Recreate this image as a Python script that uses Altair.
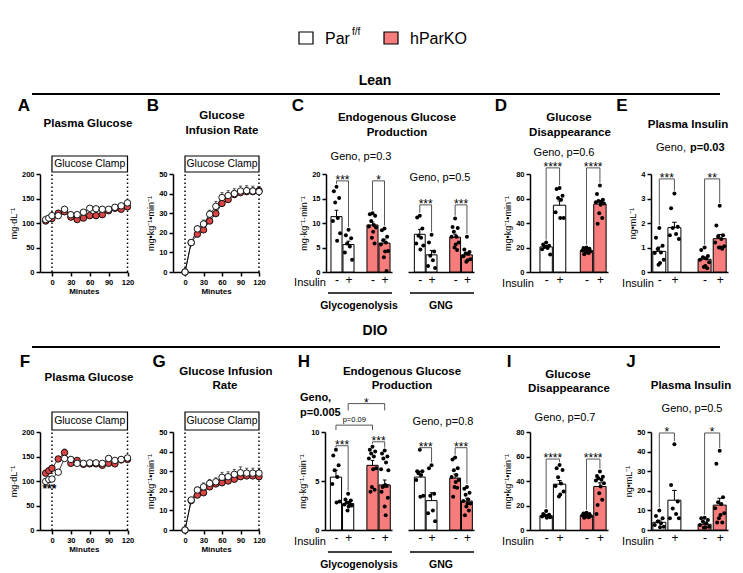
import altair as alt
import pandas as pd

W, H = 743, 573
FONT = "Liberation Sans"
PINK = "#F77C7C"
RED = "#D94545"

# ---------------- data ----------------
tc_times = [-10, -5, 0, 10, 20, 30, 40, 50, 60, 70, 80, 90, 100, 110, 120]
gir_times = [0, 10, 20, 30, 40, 50, 60, 70, 80, 90, 100, 110, 120]

# Lean plasma glucose (mg/dL)
lean_glc_wt = [107, 110, 115, 115, 128, 117, 117, 122, 130, 129, 128, 128, 132, 135, 141]
lean_glc_wt_sem = [3, 3, 3, 3, 4, 3, 3, 3, 3, 3, 3, 3, 3, 3, 4]
lean_glc_ko = [104, 109, 109, 120, 123, 112, 107, 110, 115, 115, 117, 125, 130, 128, 133]
lean_glc_ko_sem = [3, 3, 3, 3, 4, 3, 3, 3, 3, 3, 3, 3, 3, 3, 3]
# Lean glucose infusion rate
lean_gir_wt = [0, 15, 22, 24.5, 29.5, 33.5, 38, 39, 40, 41.3, 41.5, 41.3, 41]
lean_gir_wt_sem = [0, 1, 1.5, 2, 2, 2.5, 2.5, 2.5, 2.5, 2.5, 2.5, 2.5, 2.5]
lean_gir_ko = [0, 15, 19.3, 21.5, 26, 29.8, 35, 37, 39.5, 40.5, 41, 41, 41.5]
lean_gir_ko_sem = [0, 1, 1.2, 1.5, 2, 2, 2, 2, 2, 2, 2, 2, 2]
# DIO plasma glucose
dio_glc_wt = [99, 103, 104, 118, 146, 144, 136, 136, 137, 137, 136, 146, 142, 144, 147]
dio_glc_wt_sem = [4, 4, 4, 5, 6, 5, 4, 3, 3, 3, 3, 3, 3, 3, 4]
dio_glc_ko = [116, 121, 126, 145, 158, 136, 142, 134, 135, 135, 132, 136, 135, 143, 144]
dio_glc_ko_sem = [4, 4, 5, 5, 7, 4, 4, 3, 3, 3, 3, 3, 3, 3, 3]
# DIO glucose infusion rate
dio_gir_wt = [0, 15.3, 20.4, 22, 23.8, 24.6, 26.9, 27.2, 28.4, 29.2, 29, 29, 29]
dio_gir_wt_sem = [0, 1, 1.5, 2, 2, 2, 2.5, 2.5, 2.5, 3, 2.5, 2.5, 2.5]
dio_gir_ko = [0, 15, 17.8, 19, 22, 23.5, 24.1, 25, 25.9, 27.2, 27.6, 27.6, 27.2]
dio_gir_ko_sem = [0, 1, 1.5, 1.5, 2, 2, 2, 2, 2, 2, 2, 2, 2]

# bar groups: order = Par f/f -, Par f/f +, hParKO -, hParKO +
lean_glyco_pts = [
    [17.4, 16.5, 15.1, 14.2, 11.0, 10.4, 7.9, 6.4],
    [8.6, 7.5, 6.9, 5.8, 5.2, 4.0, 2.5],
    [12.0, 11.8, 11.5, 10.4, 9.6, 9.3, 9.1, 8.2, 7.0, 5.8],
    [8.9, 8.5, 7.2, 6.5, 6.0, 5.6, 4.3, 4.2, 3.0, 0.2],
]
lean_glyco_mean = [11.3, 5.6, 9.6, 5.9]
lean_glyco_sem = [1.3, 0.7, 0.6, 0.8]

lean_gng_pts = [
    [11.5, 11.1, 8.9, 7.4, 7.0, 5.8, 5.4, 4.6],
    [7.6, 6.0, 4.2, 3.3, 2.4, 1.2, 0.8],
    [10.9, 9.2, 9.0, 8.2, 7.2, 7.2, 6.0, 5.6, 5.0, 4.5],
    [7.2, 4.6, 4.1, 3.8, 3.7, 3.2, 2.6, 2.4, 2.1],
]
lean_gng_mean = [7.7, 3.5, 7.1, 3.5]
lean_gng_sem = [1.0, 0.9, 0.6, 0.5]

lean_rd_pts = [
    [24.0, 22.5, 21.5, 20.5, 19.5, 18.5, 14.2],
    [68.5, 67.7, 62.3, 60.4, 59.0, 48.7, 44.0, 44.0],
    [20.0, 19.5, 19.0, 18.5, 18.0, 17.5, 17.0, 16.5, 16.0, 15.5, 14.5],
    [70.7, 63.6, 59.0, 58.0, 57.5, 57.0, 56.0, 55.0, 48.0, 44.0, 39.4],
]
lean_rd_mean = [20.5, 54.5, 17.5, 55.5]
lean_rd_sem = [1.1, 3.5, 0.6, 2.5]

lean_ins_pts = [
    [1.8, 1.4, 1.07, 0.94, 0.8, 0.78, 0.5, 0.37, 0.3],
    [3.2, 2.6, 1.85, 1.8, 1.55, 1.5, 1.35],
    [1.0, 0.9, 0.65, 0.6, 0.55, 0.5, 0.4, 0.25, 0.2, 0.15],
    [2.7, 1.9, 1.5, 1.45, 1.35, 1.2, 1.05, 1.0, 1.0, 0.95],
]
lean_ins_mean = [0.84, 1.81, 0.52, 1.36]
lean_ins_sem = [0.18, 0.22, 0.09, 0.17]

dio_glyco_pts = [
    [8.2, 7.6, 6.6, 6.1, 5.4, 4.7, 2.9, 2.8],
    [3.7, 3.1, 3.0, 2.8, 2.7, 2.6, 2.5, 2.4, 2.0],
    [8.5, 8.2, 8.0, 7.8, 7.5, 7.3, 6.3, 6.2, 4.4, 4.1, 3.9],
    [8.1, 7.8, 7.5, 7.3, 6.9, 6.2, 6.1, 4.6, 4.5, 4.5, 4.4, 3.9, 3.3, 2.4, 1.5],
]
dio_glyco_mean = [5.4, 2.7, 6.6, 4.6]
dio_glyco_sem = [0.7, 0.2, 0.5, 0.5]

dio_gng_pts = [
    [8.2, 6.0, 6.0, 5.8, 5.6, 5.1, 3.5, 3.4],
    [6.6, 6.3, 3.7, 3.5, 2.0, 1.7, 0.9],
    [7.4, 7.2, 6.3, 6.1, 5.6, 5.4, 5.1, 4.9, 4.4, 4.3, 3.4],
    [4.4, 4.2, 3.8, 3.6, 3.1, 2.95, 2.7, 2.7, 2.4, 2.0, 1.5],
]
dio_gng_mean = [5.4, 3.0, 5.3, 2.95]
dio_gng_sem = [0.6, 0.8, 0.4, 0.3]

dio_rd_pts = [
    [15.5, 13.0, 12.5, 12.0, 11.5, 11.0, 10.5, 10.0],
    [53.0, 50.5, 49.0, 43.0, 38.0, 36.0, 31.5, 29.0, 27.3],
    [14.0, 13.5, 13.0, 12.5, 12.0, 12.0, 11.5, 11.0, 11.0, 10.5, 10.0],
    [47.8, 44.0, 43.5, 42.3, 41.0, 40.5, 38.2, 35.5, 30.0, 24.6, 20.5, 13.1],
]
dio_rd_mean = [11.7, 37.4, 11.9, 35.5]
dio_rd_sem = [0.5, 3.0, 0.4, 3.0]

dio_ins_pts = [
    [10.0, 7.2, 6.0, 4.3, 3.4, 2.6, 1.7, 1.4],
    [43.8, 23.0, 14.5, 11.0, 8.2, 6.0, 6.0],
    [6.3, 6.0, 5.1, 4.3, 3.4, 2.6, 1.7, 1.4, 1.2],
    [40.4, 33.8, 16.7, 14.2, 13.3, 11.1, 8.5, 7.7, 6.0, 3.8, 3.8],
]
dio_ins_mean = [3.9, 15.2, 2.9, 12.7]
dio_ins_sem = [1.1, 5.0, 0.6, 3.5]

# ---------------- layout ----------------
ROW1_Y = [272, 174]
ROW2_Y = [530, 432]

G = {
    "A": dict(xdom=[-19, 120], xr=[40, 127.5], ydom=[0, 200], yr=ROW1_Y),
    "B": dict(xdom=[-19.5, 120], xr=[173, 259], ydom=[0, 50], yr=ROW1_Y),
    "C1": dict(xdom=[-0.875, 4.625], xr=[326, 392], ydom=[0, 20], yr=ROW1_Y),
    "C2": dict(xdom=[-1.0, 4.6], xr=[408, 474], ydom=[0, 20], yr=ROW1_Y),
    "D": dict(xdom=[-1.2, 4.6], xr=[530, 608], ydom=[0, 80], yr=ROW1_Y),
    "E": dict(xdom=[-0.55, 4.55], xr=[651, 728], ydom=[0, 4], yr=ROW1_Y),
    "F": dict(xdom=[-19, 120], xr=[40, 127.5], ydom=[0, 200], yr=ROW2_Y),
    "G": dict(xdom=[-19.5, 120], xr=[173, 259], ydom=[0, 50], yr=ROW2_Y),
    "H1": dict(xdom=[-0.9, 4.6], xr=[325, 392], ydom=[0, 10], yr=ROW2_Y),
    "H2": dict(xdom=[-1.0, 4.6], xr=[408, 474], ydom=[0, 10], yr=ROW2_Y),
    "I": dict(xdom=[-1.2, 4.6], xr=[530, 608], ydom=[0, 80], yr=ROW2_Y),
    "J": dict(xdom=[-0.55, 4.55], xr=[651, 728], ydom=[0, 50], yr=ROW2_Y),
}

AX = dict(domainColor="black", domainWidth=1.5, tickColor="black", tickWidth=1.5,
          tickSize=4, labelFont=FONT, labelFontSize=7.5, labelFontWeight="bold",
          labelColor="black", titleFont=FONT, titleColor="black", grid=False)


def scales(g):
    xs = alt.Scale(domain=g["xdom"], range=g["xr"], nice=False, zero=False)
    ys = alt.Scale(domain=g["ydom"], range=g["yr"], nice=False, zero=False)
    return xs, ys


def inv_y(g, py):
    d0, d1 = g["ydom"]
    r0, r1 = g["yr"]
    return d0 + (r0 - py) / (r0 - r1) * (d1 - d0)


def yaxis(g, values, title):
    return alt.Axis(orient="left", offset=-g["xr"][0], values=values, title=title,
                    titleFontSize=9, titleFontWeight="normal", titlePadding=3, **AX)


def time_panel(times, wt, wt_sem, ko, ko_sem, g, yvals, ytitle, box_px, note=None):
    xs, ys = scales(g)

    def X(f, axis=None):
        return alt.X(f, type="quantitative", scale=xs, axis=axis)

    def Y(f, axis=None):
        return alt.Y(f, type="quantitative", scale=ys, axis=axis)

    rows = []
    for geno, vals, sems in (("KO", ko, ko_sem), ("WT", wt, wt_sem)):
        for t, v, s in zip(times, vals, sems):
            rows.append(dict(geno=geno, t=t, v=v, top=v + s, cl=t - 2.5, cr=t + 2.5))
    df = pd.DataFrame(rows)
    ylo = inv_y(g, box_px[1])
    yhi = inv_y(g, box_px[0])
    box = pd.DataFrame({"t0": [0], "t1": [120], "y0": [ylo], "y1": [yhi], "tm": [60],
                        "ym": [(ylo + yhi) / 2], "label": ["Glucose Clamp"]})
    vl = pd.DataFrame({"t": [0, 120], "y0": [g["ydom"][0]] * 2, "y1": [ylo] * 2})
    xaxis = alt.Axis(orient="bottom", offset=g["yr"][0] - H, values=[0, 30, 60, 90, 120],
                     title="Minutes", titleFontSize=8, titleFontWeight="bold", titlePadding=2,
                     labelFlush=False, **AX)
    layers = [
        alt.Chart(vl).mark_rule(color="black", strokeWidth=1.5, strokeDash=[1.5, 2.5]).encode(
            x=X("t"), y=Y("y0"), y2="y1"),
        alt.Chart(box).mark_rect(fill="white", stroke="black", strokeWidth=1.2).encode(
            x=X("t0"), x2="t1", y=Y("y0"), y2="y1"),
        alt.Chart(box).mark_text(font=FONT, fontSize=10.4, color="black", fill="black").encode(
            x=X("tm"), y=Y("ym"), text="label:N"),
        alt.Chart(df).mark_line(color="black", strokeWidth=0.8).encode(
            x=X("t", xaxis), y=Y("v", yaxis(g, yvals, ytitle)), detail="geno:N"),
        alt.Chart(df).mark_rule(color="#333", strokeWidth=0.8).encode(x=X("t"), y=Y("v"), y2="top"),
        alt.Chart(df).mark_rule(color="#333", strokeWidth=0.8).encode(x=X("cl"), x2="cr", y=Y("top")),
        alt.Chart(df[df.geno == "KO"]).mark_circle(size=42, fill=RED, stroke="black",
                                                    strokeWidth=0.9, opacity=1).encode(x=X("t"), y=Y("v")),
        alt.Chart(df[df.geno == "WT"]).mark_circle(size=42, fill="white", stroke="black",
                                                    strokeWidth=0.9, opacity=1).encode(x=X("t"), y=Y("v")),
    ]
    if note is not None:
        ndf = pd.DataFrame([note], columns=["t", "y", "text"])
        layers.append(alt.Chart(ndf).mark_text(font=FONT, fontSize=12, fontWeight="bold",
                                               color="black", fill="black").encode(
            x=X("t"), y=Y("y"), text="text:N"))
    return layers


JIT = [0, -0.22, 0.22, -0.11, 0.11, -0.3, 0.3, 0.05, -0.05, 0.17, -0.17, -0.26, 0.26, 0.0, 0.08]
POS = [0, 1, 3, 4]


def bar_panel(pts, means, sems, g, brackets, yvals=None, ytitle=None, half=0.45):
    xs, ys = scales(g)

    def X(f, axis=None):
        return alt.X(f, type="quantitative", scale=xs, axis=axis)

    def Y(f, axis=None):
        return alt.Y(f, type="quantitative", scale=ys, axis=axis)

    span = g["ydom"][1] - g["ydom"][0]
    bars = pd.DataFrame({"c": POS, "geno": ["WT", "WT", "KO", "KO"], "mean": means,
                         "top": [m + s for m, s in zip(means, sems)], "base": [0] * 4})
    bars["lo"] = bars.c - half
    bars["hi"] = bars.c + half
    bars["cl"] = bars.c - 0.15
    bars["cr"] = bars.c + 0.15
    drows = []
    for c, vals in zip(POS, pts):
        for i, v in enumerate(vals):
            drows.append(dict(x=c + JIT[i % len(JIT)], v=v))
    dots = pd.DataFrame(drows)

    hrows, lrows, trows = [], [], []
    for b in brackets:
        c1, c2, y, label = b[:4]
        hrows.append(dict(a=c1, b=c2, y=y))
        for c in (c1, c2):
            if len(b) > 4:
                bottom = y - b[4]
            else:
                bottom = min(max(pts[POS.index(c)]) + 0.03 * span, y - 0.02 * span)
            lrows.append(dict(c=c, y=y, y2=bottom))
        trows.append(dict(x=(c1 + c2) / 2, y=y, text=label, small=len(b) > 5))
    hdf, ldf, tdf = pd.DataFrame(hrows), pd.DataFrame(lrows), pd.DataFrame(trows)

    xaxis = alt.Axis(orient="bottom", offset=g["yr"][0] - H, values=[0, 1, 3, 4],
                     labelExpr="(datum.value == 0 || datum.value == 3) ? '-' : '+'",
                     ticks=False, title=None, domainColor="black", domainWidth=1.5,
                     labelFont=FONT, labelFontSize=12, labelColor="black", labelPadding=2,
                     labelFlush=False, labelOverlap=False, grid=False)
    ya = yaxis(g, yvals, ytitle) if yvals is not None else None
    fill = alt.condition(alt.datum.geno == "WT", alt.value("white"), alt.value(PINK))
    layers = [
        alt.Chart(bars).mark_rect(stroke="black", strokeWidth=1).encode(
            x=X("lo", xaxis), x2="hi", y=Y("mean", ya), y2="base", fill=fill),
        alt.Chart(bars).mark_rule(color="black", strokeWidth=1).encode(x=X("c"), y=Y("mean"), y2="top"),
        alt.Chart(bars).mark_rule(color="black", strokeWidth=1).encode(x=X("cl"), x2="cr", y=Y("top")),
        alt.Chart(dots).mark_circle(size=16, color="black", opacity=1).encode(x=X("x"), y=Y("v")),
        alt.Chart(hdf).mark_rule(color="#555", strokeWidth=1).encode(x=X("a"), x2="b", y=Y("y")),
        alt.Chart(ldf).mark_rule(color="#555", strokeWidth=1).encode(x=X("c"), y=Y("y"), y2="y2"),
    ]
    big = tdf[~tdf.small]
    small = tdf[tdf.small]
    if len(big):
        layers.append(alt.Chart(big).mark_text(font=FONT, fontSize=12, color="black", fill="black",
                                               baseline="alphabetic", dy=3).encode(
            x=X("x"), y=Y("y"), text="text:N"))
    if len(small):
        layers.append(alt.Chart(small).mark_text(font=FONT, fontSize=7.5, color="black", fill="black",
                                                 baseline="bottom", dy=-1).encode(
            x=X("x"), y=Y("y"), text="text:N"))
    return layers


def text_layer(rows, weight="normal", align="center", baseline="middle"):
    df = pd.DataFrame(rows, columns=["x", "y", "text", "size"])
    return alt.Chart(df).mark_text(font=FONT, fontWeight=weight, align=align,
                                   baseline=baseline, color="black", fill="black").encode(
        x=alt.X("x:Q", scale=None, axis=None), y=alt.Y("y:Q", scale=None, axis=None),
        text="text:N", size=alt.Size("size:Q", scale=None, legend=None))


def pix_rules(rows, width):
    df = pd.DataFrame(rows, columns=["x", "x2", "y"])
    return alt.Chart(df).mark_rule(color="black", strokeWidth=width).encode(
        x=alt.X("x:Q", scale=None, axis=None), x2="x2:Q", y=alt.Y("y:Q", scale=None, axis=None))


MGKG = "mg•kg⁻¹•min⁻¹"

layers = []
layers += time_panel(tc_times, lean_glc_wt, lean_glc_wt_sem, lean_glc_ko, lean_glc_ko_sem,
                     G["A"], [0, 50, 100, 150, 200], "mg·dL⁻¹", [156, 172])
layers += time_panel(gir_times, lean_gir_wt, lean_gir_wt_sem, lean_gir_ko, lean_gir_ko_sem,
                     G["B"], [0, 10, 20, 30, 40, 50], MGKG, [156, 172])
layers += bar_panel(lean_glyco_pts, lean_glyco_mean, lean_glyco_sem, G["C1"],
                    [(0, 1, 18.6, "***"), (3, 4, 18.6, "*")], [0, 5, 10, 15, 20], "mg·kg⁻¹·min⁻¹",
                    half=0.46)
layers += bar_panel(lean_gng_pts, lean_gng_mean, lean_gng_sem, G["C2"],
                    [(0, 1, 13.7, "***"), (3, 4, 13.7, "***")], half=0.46)
layers += bar_panel(lean_rd_pts, lean_rd_mean, lean_rd_sem, G["D"],
                    [(0, 1, 85, "****"), (3, 4, 85, "****")], [0, 20, 40, 60, 80], MGKG, half=0.46)
layers += bar_panel(lean_ins_pts, lean_ins_mean, lean_ins_sem, G["E"],
                    [(0, 1, 3.8, "***"), (3, 4, 3.8, "**")], [0, 1, 2, 3, 4], "ng•mL⁻¹", half=0.43)

layers += time_panel(tc_times, dio_glc_wt, dio_glc_wt_sem, dio_glc_ko, dio_glc_ko_sem,
                     G["F"], [0, 50, 100, 150, 200], "mg·dL⁻¹", [412, 430], note=(-4, 84, "***"))
layers += time_panel(gir_times, dio_gir_wt, dio_gir_wt_sem, dio_gir_ko, dio_gir_ko_sem,
                     G["G"], [0, 10, 20, 30, 40, 50], MGKG, [412, 430])
layers += bar_panel(dio_glyco_pts, dio_glyco_mean, dio_glyco_sem, G["H1"],
                    [(0, 1, 8.6, "***"), (3, 4, 9.0, "***"),
                     (0, 3, 10.7, "p=0.09", 0.5, True), (1, 4, 12.9, "*", 0.7)],
                    [0, 5, 10], "mg·kg⁻¹·min⁻¹", half=0.46)
layers += bar_panel(dio_gng_pts, dio_gng_mean, dio_gng_sem, G["H2"],
                    [(0, 1, 8.4, "***"), (3, 4, 8.4, "***")], half=0.46)
layers += bar_panel(dio_rd_pts, dio_rd_mean, dio_rd_sem, G["I"],
                    [(0, 1, 57.9, "****"), (3, 4, 57.9, "****")], [0, 20, 40, 60, 80], MGKG, half=0.46)
layers += bar_panel(dio_ins_pts, dio_ins_mean, dio_ins_sem, G["J"],
                    [(0, 1, 49.5, "*"), (3, 4, 49.5, "*")], [0, 10, 20, 30, 40, 50], "ng•mL⁻¹", half=0.43)

# ---------------- annotations ----------------
legend_boxes = pd.DataFrame({"x": [299, 384], "x2": [313, 398], "y": [32, 32], "y2": [44, 44],
                             "fill": ["white", PINK]})
layers.append(alt.Chart(legend_boxes).mark_rect(stroke="black", strokeWidth=1.2).encode(
    x=alt.X("x:Q", scale=None, axis=None), x2="x2:Q",
    y=alt.Y("y:Q", scale=None, axis=None), y2="y2:Q", fill=alt.Fill("fill:N", scale=None)))

layers.append(pix_rules([(32, 720, 94), (32, 720, 347)], 2))
layers.append(pix_rules([(328, 392, 293), (410, 474, 293), (328, 392, 552), (410, 474, 552)], 1.5))

bold_center = [
    (375, 81, "Lean", 14), (375, 331, "DIO", 14),
    (24, 106, "A", 17), (153, 106, "B", 17), (298, 106, "C", 17), (501, 106, "D", 17),
    (622, 106, "E", 17), (25, 362, "F", 17), (159, 362, "G", 17), (304, 362, "H", 17),
    (509, 362, "I", 17), (631, 362, "J", 17),
    (88, 124, "Plasma Glucose", 11.5), (222, 116, "Glucose", 11.5), (222, 131, "Infusion Rate", 11.5),
    (397, 118, "Endogenous Glucose", 11.5), (397, 133, "Production", 11.5),
    (569, 118, "Glucose", 11.5), (570, 133, "Disappearance", 11.5), (688, 125, "Plasma Insulin", 11.5),
    (89, 378, "Plasma Glucose", 11.5), (226, 372, "Glucose Infusion", 11.5), (225, 386, "Rate", 11.5),
    (402, 372, "Endogenous Glucose", 11.5), (402, 386, "Production", 11.5),
    (568, 375, "Glucose", 11.5), (569, 389, "Disappearance", 11.5), (691, 386, "Plasma Insulin", 11.5),
    (359, 306, "Glycogenolysis", 10.5), (441, 306, "GNG", 10.5),
    (359, 565, "Glycogenolysis", 10.5), (441, 565, "GNG", 10.5),
]
layers.append(text_layer(bold_center, weight="bold"))
layers.append(text_layer([(690, 148, "p=0.03", 11), (300, 398, "Geno,", 11), (300, 413, "p=0.005", 11)],
                         weight="bold", align="left"))

reg_center = [
    (361, 157, "Geno, p=0.3", 11), (440, 178, "Geno, p=0.5", 11), (564, 153, "Geno, p=0.6", 11),
    (443, 422, "Geno, p=0.8", 11), (565, 418, "Geno, p=0.7", 11), (692, 409, "Geno, p=0.5", 11),
    (310, 283, "Insulin", 11), (518, 284, "Insulin", 11), (638, 284, "Insulin", 11),
    (310, 542, "Insulin", 11), (518, 542, "Insulin", 11), (638, 542, "Insulin", 11),
]
layers.append(text_layer(reg_center))
layers.append(text_layer([(656, 148, "Geno,", 11), (325, 39, "Par", 16), (410, 39, "hParKO", 16)],
                         align="left"))
layers.append(text_layer([(352, 32, "f/f", 10)], align="left"))

chart = (
    alt.layer(*layers)
    .resolve_scale(x="independent", y="independent")
    .properties(width=W, height=H, padding=0, autosize=alt.AutoSizeParams(type="none"))
    .configure(font=FONT)
    .configure_view(strokeWidth=0)
)

chart.save("out.html", embed_options={"renderer": "svg", "actions": False})
